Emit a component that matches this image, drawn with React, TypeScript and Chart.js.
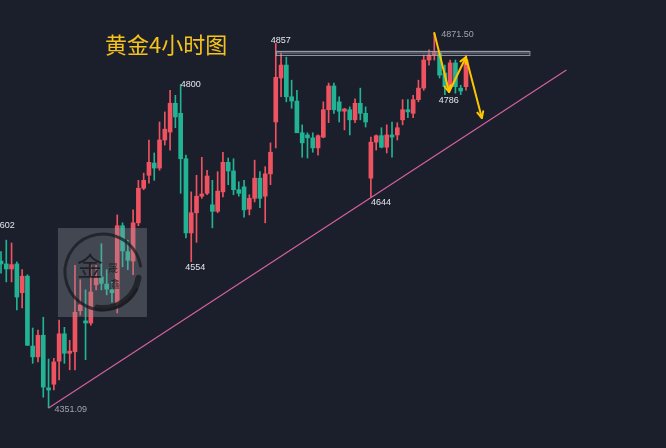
import React, { useEffect, useRef } from "react";
import { Chart, registerables } from "chart.js";

Chart.register(...registerables);

// 4-hour gold candles (price values)
const openP = [
  4555, 4551, 4544, 4551, 4511, 4534, 4437, 4422, 4452, 4379,
  4384, 4416, 4454, 4427, 4429, 4486, 4472, 4469, 4522, 4533,
  4523, 4515, 4497, 4604, 4568, 4555, 4608, 4656, 4674, 4691,
  4684, 4723, 4734, 4774, 4760, 4697, 4594, 4622, 4645, 4649,
  4633, 4624, 4651, 4692, 4680, 4654, 4658, 4627, 4642, 4670,
  4645, 4676, 4748, 4809, 4827, 4783, 4777, 4733, 4730, 4726,
  4712, 4727, 4765, 4798, 4776, 4763, 4765, 4751, 4774, 4760,
  4670, 4720, 4729, 4713, 4730, 4730, 4751, 4765, 4760, 4779,
  4795, 4834, 4841, 4844, 4816, 4797, 4830, 4795, 4797,
];
const highP = [
  4568, 4584, 4580, 4554, 4543, 4536, 4462, 4459, 4477, 4419,
  4420, 4473, 4463, 4445, 4549, 4529, 4515, 4549, 4549, 4579,
  4543, 4526, 4619, 4608, 4584, 4626, 4667, 4677, 4723, 4705,
  4748, 4762, 4792, 4785, 4800, 4702, 4651, 4674, 4699, 4681,
  4667, 4679, 4706, 4698, 4697, 4665, 4667, 4647, 4695, 4679,
  4686, 4719, 4857, 4844, 4838, 4806, 4792, 4744, 4733, 4733,
  4730, 4776, 4802, 4802, 4783, 4767, 4769, 4780, 4795, 4769,
  4727, 4730, 4740, 4744, 4748, 4747, 4779, 4779, 4785, 4806,
  4841, 4848, 4871.5, 4845, 4827, 4834, 4834, 4799, 4841,
];
const lowP = [
  4538, 4526, 4526, 4487, 4490, 4438, 4413, 4415, 4366, 4351.09,
  4376, 4390, 4413, 4404, 4404, 4480, 4418, 4466, 4515, 4515,
  4508, 4498, 4483, 4547, 4543, 4536, 4604, 4654, 4663, 4667,
  4681, 4716, 4709, 4740, 4649, 4587, 4554, 4581, 4642, 4647,
  4601, 4622, 4644, 4661, 4647, 4645, 4616, 4619, 4637, 4629,
  4608, 4661, 4712, 4783, 4776, 4767, 4733, 4699, 4698, 4706,
  4702, 4726, 4747, 4760, 4748, 4737, 4730, 4747, 4751, 4741,
  4644, 4709, 4712, 4705, 4699, 4723, 4744, 4754, 4754, 4776,
  4792, 4827, 4834, 4809, 4786, 4792, 4788, 4786, 4792,
];
const closeP = [
  4551, 4544, 4550, 4505, 4534, 4438, 4422, 4452, 4380, 4376,
  4415, 4454, 4427, 4430, 4484, 4494, 4469, 4512, 4531, 4524,
  4516, 4511, 4604, 4569, 4556, 4608, 4656, 4667, 4692, 4684,
  4723, 4738, 4774, 4755, 4697, 4594, 4622, 4645, 4648, 4673,
  4624, 4652, 4692, 4680, 4654, 4649, 4626, 4642, 4670, 4642,
  4676, 4706, 4810, 4827, 4783, 4777, 4733, 4719, 4726, 4712,
  4729, 4765, 4798, 4765, 4763, 4766, 4751, 4774, 4760, 4748,
  4720, 4729, 4713, 4730, 4727, 4740, 4765, 4762, 4779, 4795,
  4834, 4841, 4845, 4813, 4797, 4830, 4797, 4791, 4834,
];
const categories = openP.map((_, i) => `K${i + 1}`);

// annotations
const titleText = "黄金4小时图";
const labelTexts = ["4602", "4351.09", "4800", "4554", "4857", "4644", "4871.50", "4786"];
const labelIndex = [-1, 9, 34, 36, 52, 70, 82, 84];
const labelPrice = [4602, 4351.09, 4800, 4554, 4857, 4644, 4871.5, 4786];
const labelKind = ["left", "lowRight", "highRight", "low", "high", "lowLeft", "highRightGray", "low"];

// resistance band (price range) from candle index to index
const bandPrices = [4847, 4842];
const bandIndex = [52, 100];
// rising support trendline
const trendIndex = [9, 107];
const trendPrice = [4351.09, 4820];
// projected path arrows
const pathIndex = [82, 84.8, 88, 91];
const pathPrice = [4871.5, 4789.6, 4838.2, 4753.5];

const UP = "#ef5361";
const DOWN = "#22b394";
const BG = "#1a1f2b";

const overlay = {
  id: "overlay",
  afterDatasetsDraw(chart: any) {
    const ctx = chart.ctx as CanvasRenderingContext2D;
    const xs = chart.scales.x;
    const ys = chart.scales.y;
    const px = (i: number) => xs.getPixelForValue(i);
    const py = (p: number) => ys.getPixelForValue(p);
    ctx.save();

    // band
    const bx0 = px(bandIndex[0]);
    const bx1 = px(bandIndex[1]);
    const by0 = py(bandPrices[0]);
    const by1 = py(bandPrices[1]);
    ctx.fillStyle = "rgba(120,126,138,0.55)";
    ctx.fillRect(bx0, by0, bx1 - bx0, by1 - by0);
    ctx.strokeStyle = "rgba(170,175,185,0.8)";
    ctx.lineWidth = 1;
    ctx.strokeRect(bx0 + 0.5, Math.round(by0) + 0.5, bx1 - bx0, Math.round(by1 - by0));

    // trendline
    ctx.strokeStyle = "#d5609f";
    ctx.lineWidth = 1.2;
    ctx.beginPath();
    ctx.moveTo(px(trendIndex[0]), py(trendPrice[0]));
    ctx.lineTo(px(trendIndex[1]), py(trendPrice[1]));
    ctx.stroke();

    // arrows
    ctx.strokeStyle = "#ffc400";
    ctx.lineWidth = 2;
    ctx.lineCap = "round";
    ctx.lineJoin = "round";
    for (let k = 0; k < pathIndex.length - 1; k++) {
      const x0 = px(pathIndex[k]);
      const y0 = py(pathPrice[k]);
      const x1 = px(pathIndex[k + 1]);
      const y1 = py(pathPrice[k + 1]);
      ctx.beginPath();
      ctx.moveTo(x0, y0);
      ctx.lineTo(x1, y1);
      ctx.stroke();
      const ang = Math.atan2(y1 - y0, x1 - x0);
      const hl = 7;
      ctx.beginPath();
      ctx.moveTo(x1 - hl * Math.cos(ang - 0.45), y1 - hl * Math.sin(ang - 0.45));
      ctx.lineTo(x1, y1);
      ctx.lineTo(x1 - hl * Math.cos(ang + 0.45), y1 - hl * Math.sin(ang + 0.45));
      ctx.stroke();
    }

    // price labels
    ctx.font = "9px 'Liberation Sans', Arial, sans-serif";
    for (let k = 0; k < labelTexts.length; k++) {
      const x = px(labelIndex[k]);
      const y = py(labelPrice[k]);
      const kind = labelKind[k];
      ctx.fillStyle = kind === "lowRight" || kind === "highRightGray" ? "#9ea3ab" : "#e4e6ea";
      if (kind === "left") {
        ctx.textAlign = "left";
        ctx.textBaseline = "middle";
        ctx.fillText(labelTexts[k], x - 1, y - 2);
      } else if (kind === "lowRight") {
        ctx.textAlign = "left";
        ctx.textBaseline = "middle";
        ctx.fillText(labelTexts[k], x + 6, y + 2);
      } else if (kind === "highRight") {
        ctx.textAlign = "left";
        ctx.textBaseline = "middle";
        ctx.fillText(labelTexts[k], x, y);
      } else if (kind === "highRightGray") {
        ctx.textAlign = "left";
        ctx.textBaseline = "middle";
        ctx.fillText(labelTexts[k], x + 7, y + 2);
      } else if (kind === "low") {
        ctx.textAlign = "center";
        ctx.textBaseline = "top";
        ctx.fillText(labelTexts[k], x + 4, y + 1);
      } else if (kind === "lowLeft") {
        ctx.textAlign = "left";
        ctx.textBaseline = "top";
        ctx.fillText(labelTexts[k], x, y + 1);
      } else if (kind === "high") {
        ctx.textAlign = "center";
        ctx.textBaseline = "bottom";
        ctx.fillText(labelTexts[k], x + 5, y + 2);
      }
    }

    // watermark
    const W = chart.width;
    const H = chart.height;
    const wx = W * 0.087;
    const wy = H * 0.509;
    const ws = 89;
    ctx.fillStyle = "rgba(150,155,165,0.33)";
    ctx.fillRect(wx, wy, ws, ws);
    ctx.strokeStyle = "rgba(25,27,32,0.75)";
    ctx.lineWidth = 3;
    ctx.beginPath();
    ctx.arc(wx + 45, wy + 44, 38, Math.PI * 0.15, Math.PI * 1.95);
    ctx.stroke();
    ctx.lineWidth = 6;
    ctx.beginPath();
    ctx.arc(wx + 45, wy + 44, 36, Math.PI * 0.05, Math.PI * 0.55);
    ctx.stroke();
    ctx.fillStyle = "rgba(25,27,32,0.85)";
    ctx.font = "26px 'Noto Sans CJK SC'";
    ctx.textAlign = "center";
    ctx.textBaseline = "middle";
    ctx.fillText("金", wx + 32, wy + 38);
    ctx.font = "10px 'Noto Sans CJK SC'";
    ctx.fillText("晟", wx + 55, wy + 40);
    ctx.fillText("鑫", wx + 57, wy + 56);

    // title
    ctx.fillStyle = "#f6c21c";
    ctx.font = "22px 'Noto Sans CJK SC'";
    ctx.textAlign = "left";
    ctx.textBaseline = "middle";
    ctx.fillText(titleText, 105, 45);

    ctx.restore();
  },
};

export default function App() {
  const ref = useRef<HTMLCanvasElement | null>(null);
  useEffect(() => {
    document.body.style.margin = "0";
    const canvas = ref.current;
    if (!canvas) return;
    const colors = openP.map((o, i) => (closeP[i] >= o ? UP : DOWN));
    const chart = new Chart(canvas, {
      type: "bar",
      data: {
        labels: categories,
        datasets: [
          {
            label: "wick",
            data: lowP.map((l, i) => [l, highP[i]]),
            backgroundColor: colors,
            barThickness: 1,
            grouped: false,
            borderWidth: 0,
            clip: false,
            order: 2,
          } as any,
          {
            label: "body",
            data: openP.map((o, i) => [o, closeP[i]]),
            backgroundColor: colors,
            barThickness: 4,
            minBarLength: 1,
            grouped: false,
            borderWidth: 0,
            clip: false,
            order: 1,
          } as any,
        ],
      },
      options: {
        animation: false,
        responsive: false,
        devicePixelRatio: 1,
        layout: { padding: { left: 1, right: 200, top: 0, bottom: 0 } },
        plugins: { legend: { display: false }, tooltip: { enabled: false }, title: { display: false } },
        scales: {
          x: { display: false, offset: false, grid: { display: false } },
          y: { display: false, min: 4295.5, max: 4917.3 },
        },
      },
      plugins: [overlay],
    });
    return () => chart.destroy();
  }, []);
  return (
    <div style={{ width: 666, height: 448, background: BG }}>
      <canvas ref={ref} width={666} height={448} style={{ display: "block" }} />
    </div>
  );
}
